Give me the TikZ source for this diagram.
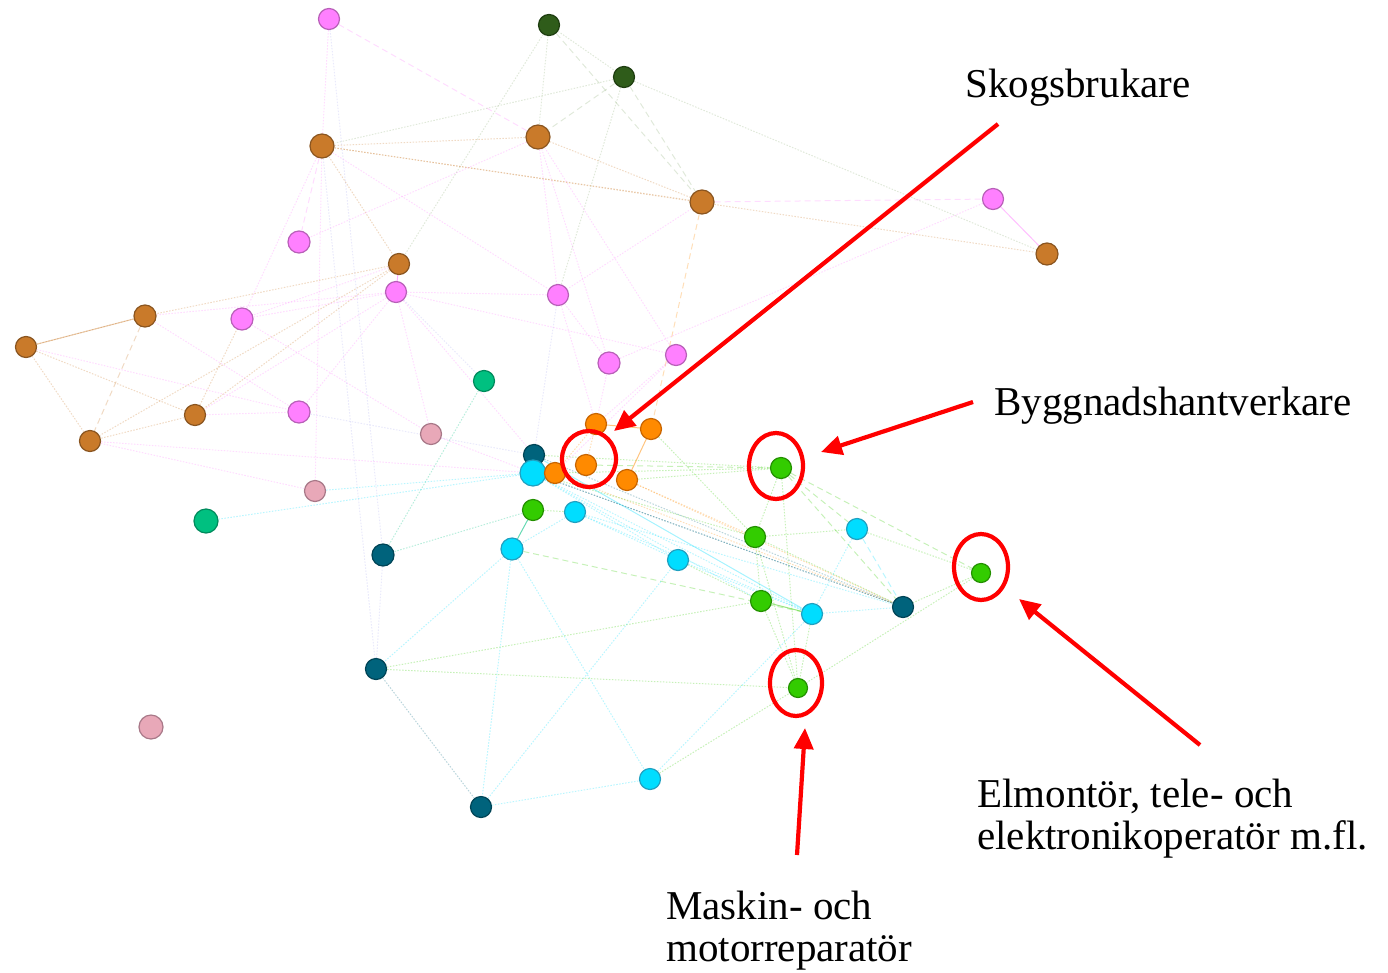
\documentclass[tikz,border=0pt]{standalone}
\usepackage{fontspec}
\setmainfont{Liberation Serif}
\usetikzlibrary{arrows.meta,backgrounds}
\definecolor{cpink}{HTML}{FF80FF}
\definecolor{bpink}{HTML}{B860B8}
\definecolor{cbrown}{HTML}{C97A2A}
\definecolor{bbrown}{HTML}{8A5520}
\definecolor{cdg}{HTML}{2F5C1A}
\definecolor{edg}{HTML}{8FB07A}
\definecolor{bdg}{HTML}{1E3D10}
\definecolor{corange}{HTML}{FF8A00}
\definecolor{borange}{HTML}{C86400}
\definecolor{cteal}{HTML}{00637C}
\definecolor{bteal}{HTML}{004456}
\definecolor{ccyan}{HTML}{00DDFF}
\definecolor{bcyan}{HTML}{20A0C0}
\definecolor{cgreen}{HTML}{33CC00}
\definecolor{bgreen}{HTML}{239000}
\definecolor{clp}{HTML}{E8A8B8}
\definecolor{blp}{HTML}{A87888}
\definecolor{ctg}{HTML}{00C080}
\definecolor{btg}{HTML}{008A5C}
\definecolor{clav}{HTML}{B0B0F0}
\definecolor{cred}{HTML}{FF0000}
\tikzset{
  nd/.style={circle, inner sep=0pt, minimum size=21pt, line width=1.2pt},
  npink/.style={nd, fill=cpink, draw=bpink},
  nbrown/.style={nd, fill=cbrown, draw=bbrown},
  ndg/.style={nd, fill=cdg, draw=bdg},
  norange/.style={nd, fill=corange, draw=borange},
  nteal/.style={nd, fill=cteal, draw=bteal},
  ncyan/.style={nd, fill=ccyan, draw=bcyan},
  ngreen/.style={nd, fill=cgreen, draw=bgreen},
  nlp/.style={nd, fill=clp, draw=blp},
  ntg/.style={nd, fill=ctg, draw=btg},
  ed/.style={line width=1pt, opacity=0.28},
  dt/.style={dash pattern=on 1.5pt off 1.5pt},
  ds/.style={dash pattern=on 6pt off 4pt},
  redring/.style={draw=cred, line width=4.2pt},
  redarrow/.style={draw=cred, line width=4.2pt, -{Triangle[length=21pt,width=19pt]}},
  lab/.style={inner sep=0pt, font=\fontsize{41}{42}\selectfont, align=left}
}
\begin{document}
\begin{tikzpicture}[x=1pt,y=-1pt]
\useasboundingbox (0,0) rectangle (1388,972);
% nodes
\node[npink] (P1) at (329,19) {};
\node[ndg] (DG1) at (549,25) {};
\node[ndg] (DG2) at (624,77) {};
\node[nbrown, minimum size=24pt] (B1) at (322,146) {};
\node[nbrown, minimum size=24pt] (B2) at (538,137) {};
\node[nbrown, minimum size=24pt] (B3) at (702,202) {};
\node[npink] (P2) at (993,199) {};
\node[nbrown, minimum size=22pt] (B4) at (1047,254) {};
\node[npink, minimum size=22pt] (P3) at (299,242) {};
\node[nbrown] (B5) at (399,264) {};
\node[npink] (P4) at (396,292) {};
\node[npink] (P5) at (558,295) {};
\node[nbrown, minimum size=22pt] (B6) at (145,316) {};
\node[npink, minimum size=22pt] (P6) at (242,319) {};
\node[nbrown] (B7) at (26,347) {};
\node[npink, minimum size=22pt] (P7) at (609,363) {};
\node[npink] (P8) at (676,355) {};
\node[ntg] (TG1) at (484,381) {};
\node[nbrown] (B8) at (195,415) {};
\node[npink, minimum size=22pt] (P9) at (299,412) {};
\node[nlp] (LP1) at (431,434) {};
\node[nbrown] (B9) at (90,441) {};
\node[norange] (O1) at (596,424) {};
\node[norange] (O2) at (651,429) {};
\node[nteal] (T1) at (534,455) {};
\node[ncyan, minimum size=26pt] (C1) at (533,473) {};
\node[norange] (O3) at (555,473) {};
\node[norange] (O4) at (586,465) {};
\node[norange] (O5) at (627,480) {};
\node[nlp] (LP2) at (315,491) {};
\node[ngreen] (G0) at (533,510) {};
\node[ncyan] (C2) at (575,512) {};
\node[ntg, minimum size=24pt] (TG2) at (206,521) {};
\node[nteal, minimum size=22pt] (T2) at (383,555) {};
\node[ncyan, minimum size=22pt] (C3) at (512,549) {};
\node[ncyan] (C4) at (678,560) {};
\node[ngreen] (G1) at (781,468) {};
\node[ngreen] (G2) at (755,537) {};
\node[ncyan] (C5) at (857,529) {};
\node[ngreen, minimum size=19pt] (G3) at (981,573) {};
\node[ngreen] (G4) at (761,601) {};
\node[ncyan] (C6) at (812,614) {};
\node[nteal] (T3) at (903,607) {};
\node[nteal] (T4) at (376,669) {};
\node[ngreen, minimum size=19pt] (G5) at (798,688) {};
\node[nlp, minimum size=24pt] (LP3) at (151,727) {};
\node[ncyan] (C7) at (650,779) {};
\node[nteal] (T5) at (481,807) {};
% edges
\begin{scope}[on background layer]
\foreach \a/\b/\c/\s in {
 P1/B1/cpink/dt, P1/B2/cpink/ds, P1/T2/clav/dt,
 DG1/DG2/edg/dt, DG1/B2/edg/dt, DG1/B5/edg/dt, DG1/B3/edg/ds,
 DG2/B2/edg/ds, DG2/B1/edg/dt, DG2/P5/edg/dt, DG2/B3/edg/ds, DG2/B4/edg/dt,
 B1/B2/cbrown/dt, B1/B3/cbrown/dt, B1/B4/cbrown/dt, B1/P3/cpink/ds, B1/P6/cpink/dt,
 B1/B5/cbrown/dt, B1/P5/cpink/dt, B1/LP2/cpink/dt, B1/T4/clav/dt,
 B2/P5/cpink/dt, B2/P7/cpink/dt, B2/P8/cpink/dt, B2/B3/cbrown/dt, B2/P3/cpink/dt,
 B3/P2/cpink/ds, B3/P5/cpink/dt, B3/O2/corange/ds,
 P2/P7/cpink/dt,
 B5/B6/cbrown/dt, B5/B8/cbrown/dt, B5/P6/cpink/dt, B5/B9/cbrown/dt,
 P4/P5/cpink/dt, P4/P6/cpink/dt, P4/B6/cpink/dt, P4/P9/cpink/dt, P4/LP1/cpink/dt,
 P4/B8/cpink/dt, P4/T1/cpink/dt, P4/TG1/clav/dt, P4/P8/cpink/dt,
 P5/T1/clav/dt, P5/P7/cpink/dt, P5/O1/cpink/dt,
 B7/B6/cbrown/dt, B7/B9/cbrown/dt, B7/B8/cbrown/dt, B7/P9/cpink/dt,
 B6/B9/cbrown/ds, B6/P9/cpink/dt,
 B8/B9/cbrown/dt, B8/P9/cpink/dt, B8/P6/cbrown/dt,
 B9/C1/cpink/dt, B9/LP2/cpink/dt, P9/T1/clav/dt, P6/LP1/cpink/dt,
 TG1/T2/ctg/dt, LP1/C1/cpink/dt,
 P7/O1/cpink/dt, P8/O1/cpink/dt, P8/O3/cpink/dt,
 O1/O4/corange/dt, O1/O3/corange/dt,
 C1/T3/cteal/dt, T1/T3/cteal/dt, O3/T3/corange/dt, C1/C6/ccyan/dt, C2/C6/ccyan/dt,
 C1/G4/ccyan/dt, C2/C4/ccyan/dt, C1/C4/ccyan/dt, O5/G2/corange/dt, O4/G1/cgreen/ds,
 O3/G1/cgreen/dt, O5/G1/cgreen/dt, C1/G2/cgreen/dt, O2/G2/cgreen/dt, T1/G1/cgreen/dt,
 C2/T3/ccyan/dt, O5/T3/corange/dt, G0/C2/cgreen/dt, G0/T2/ctg/dt, C2/C3/ccyan/dt,
 C3/T4/ccyan/dt, C3/T5/ccyan/dt, C3/C7/ccyan/dt, C3/C6/cgreen/ds,
 T4/G4/cgreen/dt, T4/G5/cgreen/dt, T4/T5/cteal/dt, T4/T2/clav/dt,
 T5/C4/ccyan/dt, T5/C7/ccyan/dt, C7/G5/cgreen/dt, C7/C6/ccyan/dt,
 G1/G2/cgreen/dt, G1/G5/cgreen/dt, G1/C5/cgreen/ds, G1/T3/cgreen/ds, G1/G3/cgreen/ds,
 G2/C5/cgreen/dt, G2/G4/cgreen/dt, G2/G5/cgreen/dt, G2/T3/cgreen/dt,
 C5/C6/ccyan/dt, C5/T3/ccyan/ds, C5/G3/cgreen/dt,
 C6/T3/ccyan/dt, C6/G5/cgreen/dt, G3/G5/cgreen/dt, G3/T3/cgreen/dt,
 G4/G5/cgreen/dt, C4/G4/cgreen/dt, C4/C6/ccyan/dt,
 TG2/C1/ccyan/dt, LP2/C1/ccyan/dt}
 {\draw[ed, \c, \s] (\a) -- (\b);}
\draw[ed, cpink, opacity=0.5] (P2) -- (B4);
\draw[ed, cpink, opacity=0.6] (B5) -- (P4);
\draw[ed, cbrown, opacity=0.4] (B7) -- (B6);
\draw[ed, corange, opacity=0.5] (O1) -- (O2);
\draw[ed, corange, opacity=0.5] (O2) -- (O5);
\draw[ed, ctg, opacity=0.6] (G0) -- (C3);
\draw[ed, cgreen, opacity=0.5] (C6) -- (G4);
\draw[ed, cteal, opacity=0.3, dt] (C1) -- (T3);
\draw[ed, ccyan, opacity=0.35] (T1) -- (C6);
\end{scope}
% red rings
\draw[redring] (589,459) ellipse [x radius=27, y radius=28];
\draw[redring] (776,466) ellipse [x radius=27, y radius=33];
\draw[redring] (981,567) ellipse [x radius=27, y radius=33];
\draw[redring] (796,683) ellipse [x radius=26, y radius=33];
% arrows
\coordinate (a1s) at (998,124); \coordinate (a1t) at (614,431);
\coordinate (a2s) at (973,402); \coordinate (a2t) at (821,452);
\coordinate (a3s) at (1200,745); \coordinate (a3t) at (1019,599);
\coordinate (a4s) at (797,855); \coordinate (a4t) at (805,728);
\draw[redarrow] (a1s) -- (a1t);
\draw[redarrow] (a2s) -- (a2t);
\draw[redarrow] (a3s) -- (a3t);
\draw[redarrow] (a4s) -- (a4t);
% labels
\node[lab, anchor=base west] (L1) at (965,97) {Skogsbrukare};
\node[lab, anchor=base west] (L2) at (994,415) {Byggnadshantverkare};
\node[lab, anchor=north west] (L3) at (977,779) {Elmontör, tele- och\\elektronikoperatör m.fl.};
\node[lab, anchor=north west] (L4) at (666,891) {Maskin- och\\motorreparatör};
\end{tikzpicture}
\end{document}
